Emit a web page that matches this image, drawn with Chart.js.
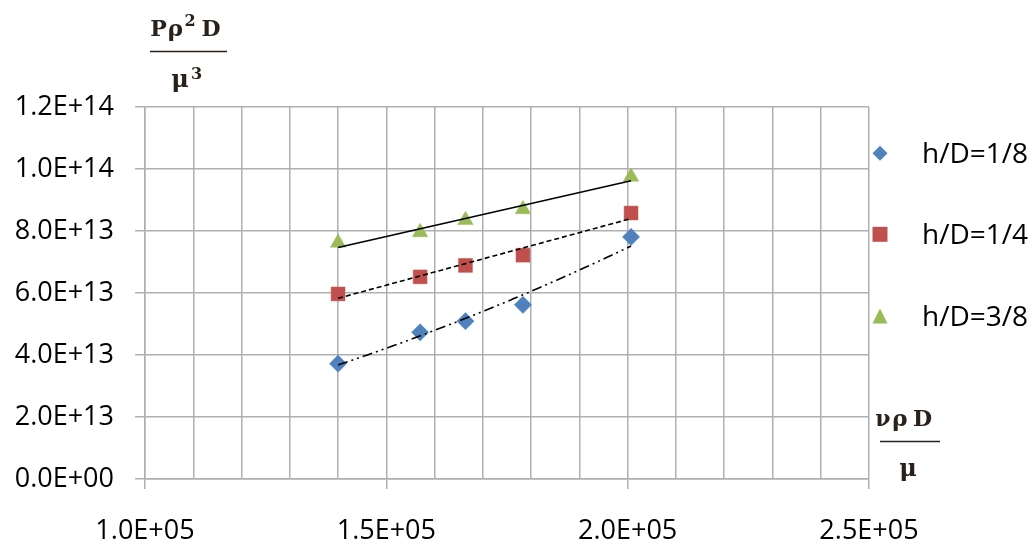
<!DOCTYPE html>
<html>
<head>
<meta charset="utf-8">
<script src="https://cdn.jsdelivr.net/npm/chart.js@4.4.1/dist/chart.umd.min.js"></script>
<style>
  html, body { margin: 0; padding: 0; background: #ffffff; }
  canvas { display: block; }
</style>
</head>
<body>
<canvas id="chart" width="1035" height="548"></canvas>
<script>
// Reynolds number  vρD/μ  for each run
const reynolds = [140000, 157000, 166400, 178300, 200700];

// Power number  Pρ²D/μ³  per blade height ratio
const powerEighth = [3.72e13, 4.73e13, 5.09e13, 5.62e13, 7.81e13];
const powerQuarter = [5.97e13, 6.52e13, 6.89e13, 7.22e13, 8.58e13];
const powerThreeEighths = [7.62e13, 7.96e13, 8.35e13, 8.70e13, 9.75e13];

const seriesNames = ['h/D=1/8', 'h/D=1/4', 'h/D=3/8'];
const seriesColors = ['#4f81bd', '#c0504d', '#9bbb59'];

// Axis ranges and tick labels
const xMin = 100000, xMax = 250000, xGridStep = 10000;
const xTickLabels = ['1.0E+05', '1.5E+05', '2.0E+05', '2.5E+05'];
const yMin = 0, yMax = 1.2e14, yStep = 2e13;
const yTickLabels = ['0.0E+00', '2.0E+13', '4.0E+13', '6.0E+13', '8.0E+13', '1.0E+14', '1.2E+14'];

const GRID = '#b0b0b0';
const INK = '#2a211a';

// Least-squares straight line y = a + b·x
function linearFit(xs, ys) {
  const n = xs.length;
  const mx = xs.reduce((s, v) => s + v, 0) / n;
  const my = ys.reduce((s, v) => s + v, 0) / n;
  let sxy = 0, sxx = 0;
  for (let i = 0; i < n; i++) {
    sxy += (xs[i] - mx) * (ys[i] - my);
    sxx += (xs[i] - mx) * (xs[i] - mx);
  }
  const b = sxy / sxx;
  const a = my - b * mx;
  return x => a + b * x;
}

// Least-squares power law y = a·x^b (fit in log-log space)
function powerFit(xs, ys) {
  const f = linearFit(xs.map(Math.log), ys.map(Math.log));
  return x => Math.exp(f(Math.log(x)));
}

function sampleCurve(fn, xs, n) {
  const x0 = Math.min(...xs), x1 = Math.max(...xs);
  const pts = [];
  for (let i = 0; i <= n; i++) {
    const x = x0 + (x1 - x0) * i / n;
    pts.push({ x, y: fn(x) });
  }
  return pts;
}

const toPoints = ys => reynolds.map((x, i) => ({ x, y: ys[i] }));

const trendEighth = sampleCurve(powerFit(reynolds, powerEighth), reynolds, 60);
const trendQuarter = sampleCurve(linearFit(reynolds, powerQuarter), reynolds, 1);
const trendThreeEighths = sampleCurve(linearFit(reynolds, powerThreeEighths), reynolds, 1);

const markerSeries = [
  { label: seriesNames[0], data: toPoints(powerEighth), pointStyle: 'rectRot', pointRadius: 8.6, color: seriesColors[0] },
  { label: seriesNames[1], data: toPoints(powerQuarter), pointStyle: 'rect', pointRadius: 9.8, color: seriesColors[1] },
  { label: seriesNames[2], data: toPoints(powerThreeEighths), pointStyle: 'triangle', pointRadius: 8.9, color: seriesColors[2] }
].map(s => ({
  label: s.label,
  data: s.data,
  showLine: false,
  pointStyle: s.pointStyle,
  pointRadius: s.pointRadius,
  pointHoverRadius: s.pointRadius,
  pointBackgroundColor: s.color,
  pointBorderColor: s.color,
  pointBorderWidth: 0.5,
  order: 2
}));

const trendSeries = [
  { data: trendEighth, dash: [10, 4, 2, 4, 2, 4] },
  { data: trendQuarter, dash: [5, 3] },
  { data: trendThreeEighths, dash: [] }
].map(s => ({
  label: 'trend',
  data: s.data,
  showLine: true,
  borderColor: '#000000',
  borderWidth: 1.6,
  borderDash: s.dash,
  pointRadius: 0,
  pointHoverRadius: 0,
  tension: 0,
  order: 1
}));

// Fraction axis titles and the legend column
const annotations = {
  id: 'annotations',
  afterDraw(chart) {
    const ctx = chart.ctx;
    ctx.save();
    ctx.fillStyle = INK;
    ctx.strokeStyle = INK;
    ctx.textAlign = 'center';
    ctx.textBaseline = 'alphabetic';

    const glyph = (t, cx, base, size) => {
      ctx.font = 'bold ' + size + 'px "DejaVu Serif", serif';
      ctx.fillText(t, cx, base);
    };
    const bar = (x0, x1, y) => {
      ctx.lineWidth = 1.7;
      ctx.beginPath();
      ctx.moveTo(x0, y);
      ctx.lineTo(x1, y);
      ctx.stroke();
    };

    // y title: Pρ²D / μ³
    glyph('P', 158.5, 36, 22);
    glyph('ρ', 175.5, 36, 23);
    glyph('2', 190, 25.5, 16);
    glyph('D', 211, 36, 22);
    bar(150, 227, 51.5);
    glyph('μ', 180, 86.5, 24);
    glyph('3', 196.5, 78.5, 16);

    // x title: νρD / μ
    glyph('ν', 883, 426, 22);
    glyph('ρ', 900, 426, 23);
    glyph('D', 922.5, 426, 22);
    bar(880, 940, 441.5);
    glyph('μ', 908, 476, 24);

    // legend
    const rows = [153.3, 234.3, 316];
    const mx = 880, h = 7.5;
    rows.forEach((y, i) => {
      ctx.fillStyle = seriesColors[i];
      ctx.beginPath();
      if (i === 0) {
        ctx.moveTo(mx, y - h); ctx.lineTo(mx + h, y); ctx.lineTo(mx, y + h); ctx.lineTo(mx - h, y);
      } else if (i === 1) {
        ctx.rect(mx - h, y - h, 2 * h, 2 * h);
      } else {
        ctx.moveTo(mx, y - h); ctx.lineTo(mx + h, y + h); ctx.lineTo(mx - h, y + h);
      }
      ctx.closePath();
      ctx.fill();
      ctx.fillStyle = '#000000';
      ctx.font = '28px "Open Sans"';
      ctx.textAlign = 'left';
      ctx.fillText(seriesNames[i], 922, y + 10);
      ctx.textAlign = 'center';
    });
    ctx.restore();
  }
};

const tickFont = { family: 'Open Sans', size: 27 };

new Chart(document.getElementById('chart'), {
  type: 'scatter',
  data: { datasets: [...trendSeries, ...markerSeries] },
  options: {
    responsive: false,
    animation: false,
    events: [],
    layout: { padding: { top: 107, right: 166, bottom: 0, left: 0 } },
    plugins: {
      legend: { display: false },
      tooltip: { enabled: false },
      title: { display: false }
    },
    scales: {
      x: {
        type: 'linear',
        min: xMin,
        max: xMax,
        afterFit(scale) { scale.height = 69; },
        afterBuildTicks(scale) {
          const ticks = [];
          for (let v = xMin; v <= xMax; v += xGridStep) ticks.push({ value: v });
          scale.ticks = ticks;
        },
        ticks: {
          autoSkip: false,
          maxRotation: 0,
          padding: 26,
          color: '#000000',
          font: tickFont,
          callback: (value, index) => (index % 5 === 0 ? xTickLabels[index / 5] : '')
        },
        grid: {
          color: GRID,
          lineWidth: 1.5,
          tickLength: 10,
          tickColor: ctx => (ctx.index % 5 === 0 ? GRID : 'rgba(0,0,0,0)')
        },
        border: { color: GRID, width: 1.5 }
      },
      y: {
        type: 'linear',
        min: yMin,
        max: yMax,
        afterFit(scale) { scale.width = 145; },
        ticks: {
          stepSize: yStep,
          padding: 21,
          color: '#000000',
          font: tickFont,
          callback: (value, index) => yTickLabels[index]
        },
        grid: { color: GRID, lineWidth: 1.5, tickLength: 10, tickColor: GRID },
        border: { color: GRID, width: 1.5 }
      }
    }
  },
  plugins: [annotations]
});
</script>
</body>
</html>
